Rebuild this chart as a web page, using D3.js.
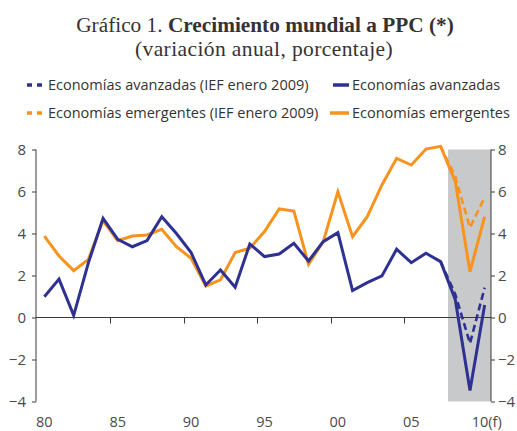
<!DOCTYPE html>
<html>
<head>
<meta charset="utf-8">
<script src="https://cdn.jsdelivr.net/npm/d3@7"></script>
<style>
  html, body { margin: 0; padding: 0; background: #fff; }
  svg { display: block; }
</style>
</head>
<body>
<svg id="chart" width="517" height="431"></svg>
<script>
const years = d3.range(1980, 2011);
const xTickLabels = ["80", "85", "90", "95", "00", "05", "10(f)"];
const xTickYears = [1980, 1985, 1990, 1995, 2000, 2005, 2010];
const yTicks = [-4, -2, 0, 2, 4, 6, 8];

const advanced = [0.99, 1.83, 0.1, 2.6, 4.72, 3.72, 3.37, 3.66, 4.8, 4.0,
  3.09, 1.55, 2.26, 1.44, 3.5, 2.9, 3.02, 3.53, 2.69, 3.61,
  4.04, 1.28, 1.66, 1.98, 3.25, 2.61, 3.06, 2.66, 0.85, -3.48, 0.6];
const emerging = [3.88, 2.93, 2.23, 2.77, 4.61, 3.66, 3.88, 3.93, 4.2, 3.37,
  2.82, 1.5, 1.79, 3.09, 3.3, 4.09, 5.17, 5.07, 2.53, 3.61,
  5.99, 3.85, 4.8, 6.31, 7.58, 7.26, 8.02, 8.15, 6.47, 2.18, 4.8];
const iefYears = [2007, 2008, 2009, 2010];
const advancedIEF = [2.66, 1.1, -1.23, 1.42];
const emergingIEF = [8.15, 6.7, 4.28, 5.72];
const shadedYears = [2008, 2009, 2010];

const legendItems = [
  { label: "Economías avanzadas (IEF enero 2009)", color: "#2e3192", dashed: true },
  { label: "Economías avanzadas", color: "#2e3192", dashed: false },
  { label: "Economías emergentes (IEF enero 2009)", color: "#f7931e", dashed: true },
  { label: "Economías emergentes", color: "#f7931e", dashed: false }
];

const BLUE = "#2e3192", ORANGE = "#f7931e", AXIS = "#3a3a3a", LABEL = "#4a4a4a";
const svg = d3.select("#chart");

// Title
const title = svg.append("text")
  .attr("x", 265).attr("y", 32)
  .attr("text-anchor", "middle")
  .attr("font-family", "'Liberation Serif', serif")
  .attr("font-size", 21.3)
  .attr("fill", "#333");
title.append("tspan").text("Gráfico 1. ");
title.append("tspan").attr("font-weight", "bold").text("Crecimiento mundial a PPC (*)");
svg.append("text")
  .attr("x", 264).attr("y", 56)
  .attr("text-anchor", "middle")
  .attr("font-family", "'Liberation Serif', serif")
  .attr("font-size", 21.5)
  .attr("letter-spacing", 0.4)
  .attr("fill", "#333")
  .text("(variación anual, porcentaje)");

// Scales
const x = d3.scaleBand().domain(years).range([37, 492]).padding(0);
const cx = yr => x(yr) + x.bandwidth() / 2;
const y = d3.scaleLinear().domain([-4, 8]).range([401.5, 149.5]);

// Shaded forecast area
svg.append("rect")
  .attr("x", x(shadedYears[0]))
  .attr("y", y(8))
  .attr("width", 491 - x(shadedYears[0]))
  .attr("height", y(-4) - y(8))
  .attr("fill", "#c8c9cb");

// Left axis
const leftAxis = svg.append("g").attr("transform", "translate(36,0)")
  .call(d3.axisLeft(y).tickValues(yTicks).tickSize(4).tickPadding(6).tickFormat(d3.format("d")));
// Right axis
const rightAxis = svg.append("g").attr("transform", "translate(491,0)")
  .call(d3.axisRight(y).tickValues(yTicks).tickSize(4).tickPadding(3).tickFormat(d3.format("d")));
[leftAxis, rightAxis].forEach(g => {
  g.select(".domain").attr("stroke", AXIS).attr("d", null);
  g.selectAll(".tick line").attr("stroke", AXIS);
  g.selectAll(".tick text")
    .attr("font-family", "'Open Sans', sans-serif")
    .attr("font-size", 15)
    .attr("fill", LABEL);
});
leftAxis.append("line").attr("x1", 0).attr("x2", 0).attr("y1", y(8)).attr("y2", y(-4)).attr("stroke", AXIS);
rightAxis.append("line").attr("x1", 0).attr("x2", 0).attr("y1", y(8)).attr("y2", y(-4)).attr("stroke", AXIS);

// Zero line with ticks at category boundaries
svg.append("line")
  .attr("x1", 36).attr("x2", 491)
  .attr("y1", y(0)).attr("y2", y(0))
  .attr("stroke", AXIS).attr("stroke-width", 1.2);
xTickYears.slice(1, 6).forEach(yr => {
  svg.append("line")
    .attr("x1", Math.round(x(yr)) + 0.5).attr("x2", Math.round(x(yr)) + 0.5)
    .attr("y1", y(0)).attr("y2", y(0) + 6)
    .attr("stroke", AXIS);
});
// X tick labels
svg.append("g").selectAll("text")
  .data(xTickYears)
  .join("text")
  .attr("x", d => cx(d) + (d === 2010 ? 2 : 0))
  .attr("y", 426.5)
  .attr("text-anchor", "middle")
  .attr("font-family", "'Open Sans', sans-serif")
  .attr("font-size", 14.5)
  .attr("fill", LABEL)
  .text((d, i) => xTickLabels[i]);

// Lines
const line = d3.line().x(d => cx(d[0])).y(d => y(d[1]));
function drawSeries(xs, vals, color, width, dash) {
  svg.append("path")
    .datum(xs.map((yr, i) => [yr, vals[i]]))
    .attr("d", line)
    .attr("fill", "none")
    .attr("stroke", color)
    .attr("stroke-width", width)
    .attr("stroke-linejoin", "miter")
    .attr("stroke-dasharray", dash || null);
}
drawSeries(iefYears, emergingIEF, ORANGE, 2.6, "7,4");
drawSeries(iefYears, advancedIEF, BLUE, 2.6, "7,4");
drawSeries(years, emerging, ORANGE, 3, null);
drawSeries(years, advanced, BLUE, 3, null);

// Legend
const legendPos = [
  { sx: 27, tx: 48, y: 85 },
  { sx: 333, tx: 352, y: 85 },
  { sx: 27, tx: 48, y: 113 },
  { sx: 330, tx: 352, y: 113 }
];
legendItems.forEach((item, i) => {
  const p = legendPos[i];
  const g = svg.append("g");
  if (item.dashed) {
    g.append("line").attr("x1", p.sx).attr("x2", p.sx + 16)
      .attr("y1", p.y).attr("y2", p.y)
      .attr("stroke", item.color).attr("stroke-width", 3.5)
      .attr("stroke-dasharray", "5,5");
  } else {
    g.append("line").attr("x1", p.sx).attr("x2", p.tx - 3)
      .attr("y1", p.y).attr("y2", p.y)
      .attr("stroke", item.color).attr("stroke-width", 3.5);
  }
  g.append("text")
    .attr("x", p.tx).attr("y", p.y + 5)
    .attr("font-family", "'Open Sans', sans-serif")
    .attr("font-size", 14.5)
    .attr("fill", "#333")
    .text(item.label);
});
</script>
</body>
</html>
